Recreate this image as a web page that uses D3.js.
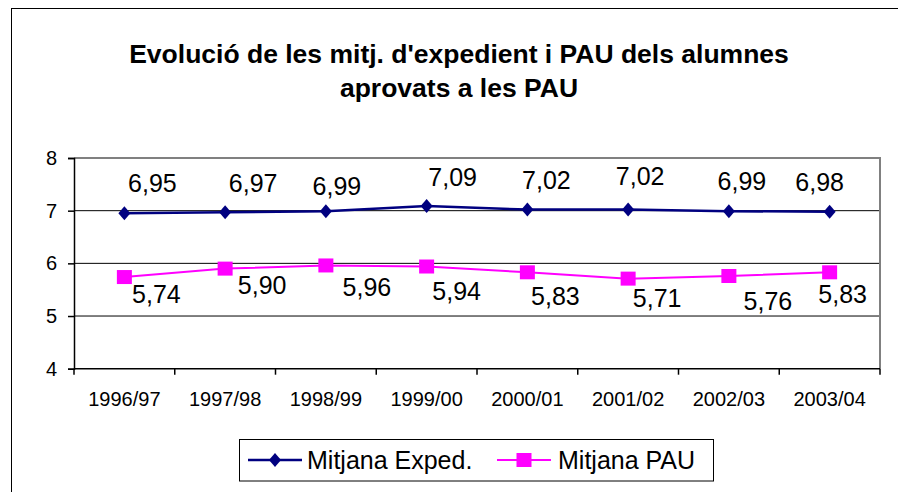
<!DOCTYPE html>
<html>
<head>
<meta charset="utf-8">
<script src="https://d3js.org/d3.v7.min.js"></script>
<style>
  body { margin: 0; background: #fff; }
  text { font-family: "Liberation Sans", Arial, sans-serif; }
</style>
</head>
<body>
<div id="chart"></div>
<script>
var svgWidth = 898, svgHeight = 492;
var margin = { left: 74, top: 158, right: 18, bottom: 123 };
var width = 880 - margin.left;
var height = 368.7 - margin.top;

// data
var cursos = ["1996/97", "1997/98", "1998/99", "1999/00", "2000/01", "2001/02", "2002/03", "2003/04"];
var mitjanaExped = [6.95, 6.97, 6.99, 7.09, 7.02, 7.02, 6.99, 6.98];
var mitjanaPAU = [5.74, 5.90, 5.96, 5.94, 5.83, 5.71, 5.76, 5.83];
var yTicks = [4, 5, 6, 7, 8];
var seriesNames = ["Mitjana Exped.", "Mitjana PAU"];
var titleLines = ["Evolució de les mitj. d'expedient i PAU dels alumnes", "aprovats a les PAU"];

// hand placed label offsets (as in the original sheet)
var expedLabelDx = [28, 28, 11, 26, 19, 12, 13, -10];
var expedLabelDy = [-21, -20, -16, -20, -21, -25, -21, -21];
var pauLabelDx = [32, 37, 41, 30, 28, 29, 39, 13];
var pauLabelDy = [26, 25, 31, 33, 33, 28, 34, 31];

function fmt(v) { return d3.format(".2f")(v).replace(".", ","); }

var svg = d3.select("#chart").append("svg")
  .attr("width", svgWidth)
  .attr("height", svgHeight);

// outer chart frame
svg.append("rect")
  .attr("x", 11.5).attr("y", 8.5)
  .attr("width", 1000).attr("height", 1000)
  .attr("fill", "none")
  .attr("stroke", "#000")
  .attr("stroke-width", 1);

// title
svg.append("g").selectAll("text")
  .data(titleLines)
  .enter()
  .append("text")
  .attr("x", 459)
  .attr("y", (d, i) => 63 + i * 34)
  .attr("text-anchor", "middle")
  .style("font-size", "26.5px")
  .style("font-weight", "bold")
  .text(d => d);

var chartGroup = svg.append("g")
  .attr("transform", `translate(${margin.left}, ${margin.top})`);

var xScale = d3.scaleBand().domain(cursos).range([0, width]);
var yScale = d3.scaleLinear().domain([4, 8]).range([height, 0]);

// gridlines
chartGroup.append("g").selectAll("line")
  .data(yTicks.filter(t => t > 4 && t < 8))
  .enter()
  .append("line")
  .attr("x1", 0).attr("x2", width)
  .attr("y1", d => yScale(d)).attr("y2", d => yScale(d))
  .attr("stroke", "#000")
  .attr("stroke-width", 1);

// plot border top/right
chartGroup.append("path")
  .attr("d", `M0,${yScale(8)}H${width}V${yScale(4)}`)
  .attr("fill", "none")
  .attr("stroke", "#808080")
  .attr("stroke-width", 2);

// y axis
var yAxis = d3.axisLeft(yScale).tickValues(yTicks).tickSize(6).tickPadding(11).tickFormat(d3.format("d"));
var yG = chartGroup.append("g").call(yAxis);
yG.select(".domain").attr("stroke-width", 1.5);
yG.selectAll("line").attr("stroke-width", 1.5);
yG.selectAll("text")
  .style("font-size", "20px")
  .style("font-family", "'Liberation Sans', Arial, sans-serif")
  .attr("fill", "#000");

// x axis with ticks on category boundaries
var xG = chartGroup.append("g").attr("transform", `translate(0, ${height})`);
xG.append("line")
  .attr("x1", 0).attr("x2", width)
  .attr("stroke", "#000").attr("stroke-width", 1.5);
xG.selectAll(".tk")
  .data(cursos.concat(["end"]))
  .enter()
  .append("line")
  .attr("class", "tk")
  .attr("x1", (d, i) => i * xScale.step())
  .attr("x2", (d, i) => i * xScale.step())
  .attr("y1", 0).attr("y2", 6)
  .attr("stroke", "#000").attr("stroke-width", 1.5);
xG.selectAll(".lbl")
  .data(cursos)
  .enter()
  .append("text")
  .attr("class", "lbl")
  .attr("x", d => xScale(d) + xScale.bandwidth() / 2)
  .attr("y", 37)
  .attr("text-anchor", "middle")
  .style("font-size", "20px")
  .text(d => d);

function cx(i) { return xScale(cursos[i]) + xScale.bandwidth() / 2; }

var line = d3.line()
  .x((d, i) => cx(i))
  .y(d => yScale(d));

// Exped series
chartGroup.append("path")
  .datum(mitjanaExped)
  .attr("d", line)
  .attr("fill", "none")
  .attr("stroke", "#000080")
  .attr("stroke-width", 2.5);

chartGroup.selectAll(".diamond")
  .data(mitjanaExped)
  .enter()
  .append("path")
  .attr("class", "diamond")
  .attr("transform", (d, i) => `translate(${cx(i)}, ${yScale(d)})`)
  .attr("d", "M0,-7L6,0L0,7L-6,0Z")
  .attr("fill", "#000080");

// PAU series
chartGroup.append("path")
  .datum(mitjanaPAU)
  .attr("d", line)
  .attr("fill", "none")
  .attr("stroke", "#FF00FF")
  .attr("stroke-width", 2);

chartGroup.selectAll(".square")
  .data(mitjanaPAU)
  .enter()
  .append("rect")
  .attr("class", "square")
  .attr("x", (d, i) => cx(i) - 7.5)
  .attr("y", d => yScale(d) - 7)
  .attr("width", 15).attr("height", 14)
  .attr("fill", "#FF00FF");

// data labels
chartGroup.selectAll(".lblE")
  .data(mitjanaExped)
  .enter()
  .append("text")
  .attr("class", "lblE")
  .attr("x", (d, i) => cx(i) + expedLabelDx[i])
  .attr("y", (d, i) => yScale(d) + expedLabelDy[i])
  .attr("text-anchor", "middle")
  .style("font-size", "25px")
  .text(d => fmt(d));

chartGroup.selectAll(".lblP")
  .data(mitjanaPAU)
  .enter()
  .append("text")
  .attr("class", "lblP")
  .attr("x", (d, i) => cx(i) + pauLabelDx[i])
  .attr("y", (d, i) => yScale(d) + pauLabelDy[i])
  .attr("text-anchor", "middle")
  .style("font-size", "25px")
  .text(d => fmt(d));

// legend
var legend = svg.append("g");
legend.append("rect")
  .attr("x", 239.5).attr("y", 439.5)
  .attr("width", 474).attr("height", 41.5)
  .attr("fill", "#fff")
  .attr("stroke", "#000").attr("stroke-width", 1);

var legendItems = [
  { name: seriesNames[0], color: "#000080", x0: 248, tx: 307, shape: "diamond" },
  { name: seriesNames[1], color: "#FF00FF", x0: 497, tx: 558, shape: "square" }
];
legendItems.forEach(function(it) {
  var ly = 460;
  legend.append("line")
    .attr("x1", it.x0).attr("x2", it.x0 + 54)
    .attr("y1", ly).attr("y2", ly)
    .attr("stroke", it.color).attr("stroke-width", it.shape == "diamond" ? 2.5 : 2);
  if (it.shape == "diamond") {
    legend.append("path")
      .attr("transform", `translate(${it.x0 + 27}, ${ly})`)
      .attr("d", "M0,-7L6,0L0,7L-6,0Z")
      .attr("fill", it.color);
  } else {
    legend.append("rect")
      .attr("x", it.x0 + 27 - 7.5).attr("y", ly - 7)
      .attr("width", 15).attr("height", 14)
      .attr("fill", it.color);
  }
  legend.append("text")
    .attr("x", it.tx)
    .attr("y", ly + 9)
    .style("font-size", "25px")
    .text(it.name);
});
</script>
</body>
</html>
